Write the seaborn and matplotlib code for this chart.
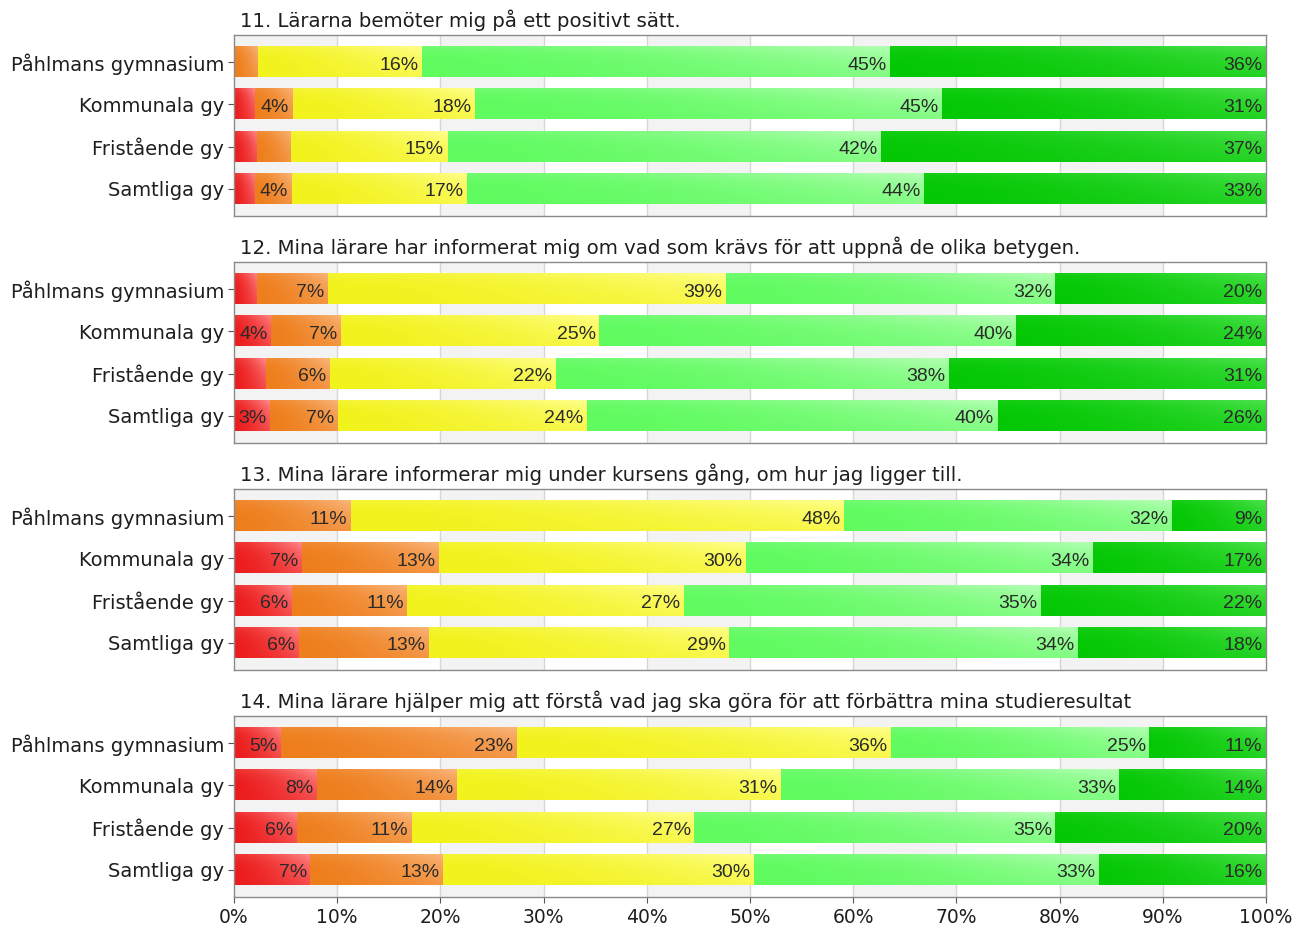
import numpy as np
import pandas as pd
import matplotlib
matplotlib.use("Agg")
import matplotlib.pyplot as plt
import matplotlib.colors as mcolors
import seaborn as sns

# ---------------- data ----------------
groups = ["Påhlmans gymnasium", "Kommunala gy", "Fristående gy", "Samtliga gy"]

titles = [
    "11. Lärarna bemöter mig på ett positivt sätt.",
    "12. Mina lärare har informerat mig om vad som krävs för att uppnå de olika betygen.",
    "13. Mina lärare informerar mig under kursens gång, om hur jag ligger till.",
    "14. Mina lärare hjälper mig att förstå vad jag ska göra för att förbättra mina studieresultat",
]

# segment shares (%) per group, in group order: red, orange, yellow, light green, dark green
q11_red = [0.0, 2.0, 2.2, 2.0]
q11_orange = [2.3, 3.7, 3.3, 3.6]
q11_yellow = [15.9, 17.7, 15.2, 17.0]
q11_lgreen = [45.4, 45.2, 42.0, 44.3]
q11_dgreen = [36.4, 31.4, 37.3, 33.1]

q12_red = [2.2, 3.6, 3.1, 3.45]
q12_orange = [6.9, 6.8, 6.2, 6.65]
q12_yellow = [38.6, 25.0, 21.9, 24.1]
q12_lgreen = [31.9, 40.4, 38.1, 39.8]
q12_dgreen = [20.4, 24.2, 30.7, 26.0]

q13_red = [0.0, 6.6, 5.6, 6.3]
q13_orange = [11.3, 13.3, 11.2, 12.6]
q13_yellow = [47.8, 29.7, 26.8, 29.1]
q13_lgreen = [31.8, 33.6, 34.6, 33.8]
q13_dgreen = [9.1, 16.8, 21.8, 18.2]

q14_red = [4.6, 8.0, 6.1, 7.4]
q14_orange = [22.8, 13.6, 11.1, 12.9]
q14_yellow = [36.3, 31.4, 27.4, 30.1]
q14_lgreen = [25.0, 32.8, 35.0, 33.4]
q14_dgreen = [11.3, 14.2, 20.4, 16.2]

questions = [
    [q11_red, q11_orange, q11_yellow, q11_lgreen, q11_dgreen],
    [q12_red, q12_orange, q12_yellow, q12_lgreen, q12_dgreen],
    [q13_red, q13_orange, q13_yellow, q13_lgreen, q13_dgreen],
    [q14_red, q14_orange, q14_yellow, q14_lgreen, q14_dgreen],
]

x_ticks = [0, 10, 20, 30, 40, 50, 60, 70, 80, 90, 100]

# ---------------- style ----------------
base_colors = ["#ec1c1c", "#ee7e1c", "#f2f21c", "#5ffb5f", "#05c805"]
light_colors = ["#ff8a8a", "#fab67c", "#ffff8c", "#b4ffb4", "#4be24b"]

sns.set_style("white")
plt.rcParams["font.family"] = ["DejaVu Sans"]

W, H = 1300, 930
fig = plt.figure(figsize=(W / 100, H / 100), dpi=100)

ax_left, ax_w = 234, 1032
ax_top0, ax_h, ax_step = 35, 181, 227
bar_h = 0.71
pad = 0.64


def gradient_image(c0, c1, nx=200, ny=40):
    a = np.array(mcolors.to_rgb(c0))
    b = np.array(mcolors.to_rgb(c1))
    xn = np.linspace(0, 1, nx)[None, :]
    yn = np.linspace(0, 1, ny)[:, None]  # 0 top, 1 bottom
    f = 0.8 * xn ** 1.5 * (1 - 0.45 * yn) + 0.22 * (1 - yn) ** 4
    f = np.clip(f, 0, 1)
    img = a[None, None, :] + (b - a)[None, None, :] * f[:, :, None]
    return np.clip(img, 0, 1)


for qi, (title, segs) in enumerate(zip(titles, questions)):
    top = ax_top0 + qi * ax_step
    ax = fig.add_axes([ax_left / W, 1 - (top + ax_h) / H, ax_w / W, ax_h / H])

    # background bands and grid
    for k in range(0, 100, 20):
        ax.axvspan(k, k + 10, color="#f3f3f3", zorder=0, lw=0)
    for t in x_ticks[1:-1]:
        ax.axvline(t, color="#d6d6d6", lw=1, zorder=0.5)

    offsets = np.zeros(len(groups))
    for si, vals in enumerate(segs):
        vals = np.asarray(vals, dtype=float)
        df = pd.DataFrame({"group": groups, "value": vals})
        n_before = len(ax.patches)
        sns.barplot(data=df, x="value", y="group", order=groups, orient="h",
                    color=base_colors[si], saturation=1, width=bar_h,
                    errorbar=None, left=offsets.copy(), ax=ax, zorder=2,
                    linewidth=0)
        new_patches = ax.patches[n_before:]
        img = gradient_image(base_colors[si], light_colors[si])
        for p in new_patches:
            x0, y0 = p.get_x(), p.get_y()
            w, h = p.get_width(), p.get_height()
            if w <= 0:
                continue
            ax.imshow(img, extent=(x0, x0 + w, y0 + h, y0), origin="upper",
                      aspect="auto", zorder=2.5, interpolation="bilinear")
            if w >= 3.4:
                ax.text(x0 + w - 0.35, y0 + h / 2 + 0.07, f"{int(w + 0.5)}%",
                        ha="right", va="center", fontsize=14,
                        family=["Liberation Sans", "DejaVu Sans"],
                        color="#2a2a2a", zorder=4)
        offsets = offsets + vals

    ax.set_xlim(0, 100)
    ax.set_ylim(len(groups) - 1 + pad, -pad)
    ax.set_xlabel("")
    ax.set_ylabel("")
    for sp in ax.spines.values():
        sp.set_color("#8a8a8a")
        sp.set_linewidth(1)
        sp.set_visible(True)
    ax.tick_params(axis="y", length=4, color="#555555", labelsize=14,
                   labelcolor="#1e1e1e", pad=3, left=True)
    ax.set_xticks(x_ticks)
    if qi == len(questions) - 1:
        ax.set_xticklabels([f"{t}%" for t in x_ticks])
        ax.tick_params(axis="x", length=4, color="#555555", labelsize=13.5,
                       labelcolor="#1e1e1e", pad=4, bottom=True)
    else:
        ax.tick_params(axis="x", bottom=False, labelbottom=False)

    ax.text(0.006, 1 + 8 / ax_h, title, transform=ax.transAxes,
            ha="left", va="baseline", fontsize=14.2, color="#1e1e1e")

fig.savefig("out.png", dpi=100)
